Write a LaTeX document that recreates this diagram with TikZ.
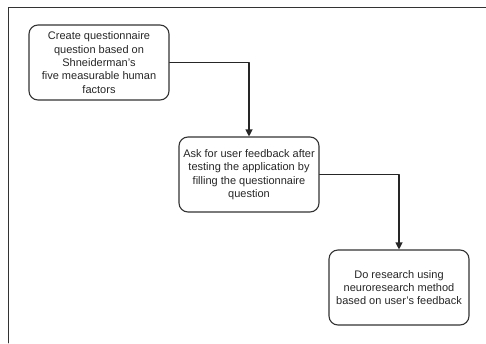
\documentclass[tikz,border=0pt]{standalone}
\usepackage{fontspec}
\setmainfont{Liberation Sans}
\usetikzlibrary{arrows.meta}

\begin{document}
\begin{tikzpicture}[x=1pt, y=-1pt, line join = round, line cap = round,
    stepbox/.style={draw=black!80, line width=1.1pt, rounded corners=9pt,
        minimum width=140pt, minimum height=75pt, inner sep=1pt,
        align=center, font=\fontsize{11}{13.4}\selectfont, text=black!85},
    flow/.style={draw=black!85, line width=1.1pt, -{Triangle[length=7pt, width=7pt]}}]
    \useasboundingbox (0,0) rectangle (486,343);

    % frame of the page
    \draw[black!80, line width=0.9pt] (486,7) -- (8,7) -- (8,343);

    \node[stepbox] (create) at (99,62.5) {Create questionnaire\\question based on\\Shneiderman's\\five measurable human\\factors};
    \node[stepbox] (ask) at (249,174.5) {Ask for user feedback after\\testing the application by\\filling the questionnaire\\question};
    \node[stepbox] (research) at (399,287.5) {Do research using\\neuroresearch method\\based on user's feedback};

    \draw[flow] (create.east) -| (ask.north);
    \draw[flow] (ask.east) -| (research.north);
\end{tikzpicture}
\end{document}
